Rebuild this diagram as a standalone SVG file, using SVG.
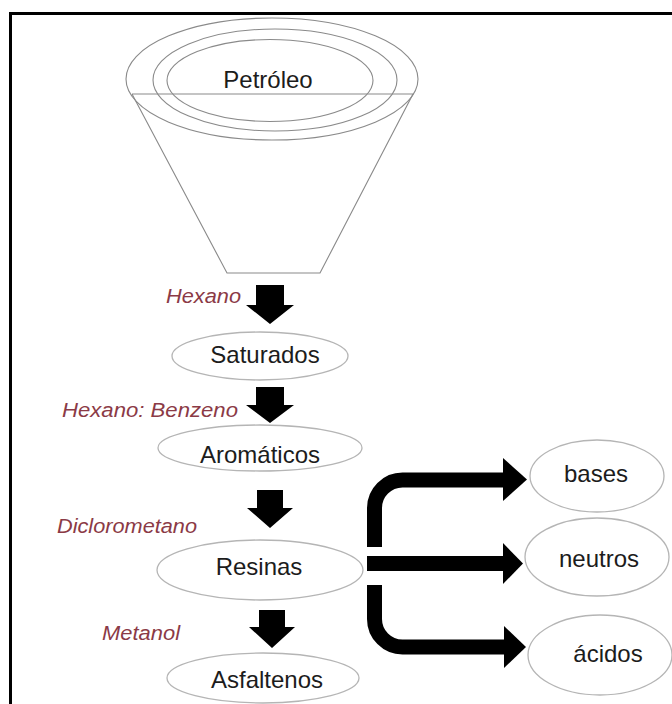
<svg xmlns="http://www.w3.org/2000/svg" width="672" height="704" viewBox="0 0 672 704">
<style>
.funnel{fill:none;stroke:#8a8a8a;stroke-width:1.1}
.node{fill:#fff;stroke:#b5b5b5;stroke-width:1.3}
.t{font-family:"Liberation Sans",Arial,sans-serif;font-size:24px;fill:#1c1c1c;text-anchor:middle}
.lbl{font-family:"Liberation Sans",Arial,sans-serif;font-size:20px;font-style:italic;fill:#8b3a46}
.bar{fill:none;stroke:#000;stroke-width:15}
.head{fill:#000}
</style>
<rect x="0" y="0" width="672" height="704" fill="#fff"/>
<g id="frame">
<line x1="9" y1="13.5" x2="672" y2="13.5" stroke="#000" stroke-width="3"/>
<line x1="10.5" y1="12" x2="10.5" y2="704" stroke="#000" stroke-width="3"/>
</g>
<g id="petroleo">
<ellipse class="funnel" cx="272" cy="79" rx="146" ry="61"/>
<ellipse class="funnel" cx="275" cy="80" rx="122" ry="51"/>
<ellipse class="funnel" cx="270" cy="80.5" rx="103" ry="41"/>
<polyline class="funnel" points="132,94 413,94 320,273 227,273 132,94"/>
<text class="t" x="268" y="88">Petróleo</text>
</g>
<g id="saturados">
<ellipse class="node" cx="260" cy="356" rx="88" ry="24"/>
<text class="t" x="265" y="363">Saturados</text>
</g>
<g id="aromaticos">
<ellipse class="node" cx="260" cy="448" rx="102" ry="23"/>
<text class="t" x="260" y="463">Aromáticos</text>
</g>
<g id="resinas">
<ellipse class="node" cx="260" cy="570" rx="103" ry="30"/>
<text class="t" x="259" y="575">Resinas</text>
</g>
<g id="asfaltenos">
<ellipse class="node" cx="263" cy="678" rx="96" ry="25"/>
<text class="t" x="267" y="688">Asfaltenos</text>
</g>
<g id="bases">
<ellipse class="node" cx="597" cy="476" rx="67" ry="36"/>
<text class="t" x="596" y="482">bases</text>
</g>
<g id="neutros">
<ellipse class="node" cx="597" cy="557" rx="72" ry="39"/>
<text class="t" x="599" y="567">neutros</text>
</g>
<g id="acidos">
<ellipse class="node" cx="600" cy="655" rx="72" ry="40"/>
<text class="t" x="608" y="662">ácidos</text>
</g>
<g id="connectors">
<polygon class="head" points="256,285 284,285 284,305 294,305 270,324 246,305 256,305"/>
<polygon class="head" points="256,387 284,387 284,405 294,405 270,423 246,405 256,405"/>
<polygon class="head" points="257,490 283,490 283,508 293,508 270,528 247,508 257,508"/>
<polygon class="head" points="259,610 285,610 285,627 295,627 272,648 249,627 259,627"/>
<path class="bar" d="M374.5 547 V508 A28 28 0 0 1 402.5 480 H505"/>
<polygon class="head" points="503,458 527,479.5 503,501"/>
<path class="bar" d="M367 563.5 H505"/>
<polygon class="head" points="503,543 523,563.5 503,584"/>
<path class="bar" d="M374.5 585 V619 A28 28 0 0 0 402.5 647 H506"/>
<polygon class="head" points="504,626 526,647 504,668"/>
</g>
<g id="labels">
<text class="lbl" x="166" y="303" textLength="75" lengthAdjust="spacingAndGlyphs">Hexano</text>
<text class="lbl" x="62" y="417" textLength="176" lengthAdjust="spacingAndGlyphs">Hexano: Benzeno</text>
<text class="lbl" x="57" y="533" textLength="140" lengthAdjust="spacingAndGlyphs">Diclorometano</text>
<text class="lbl" x="102" y="640" textLength="78" lengthAdjust="spacingAndGlyphs">Metanol</text>
</g>
</svg>
